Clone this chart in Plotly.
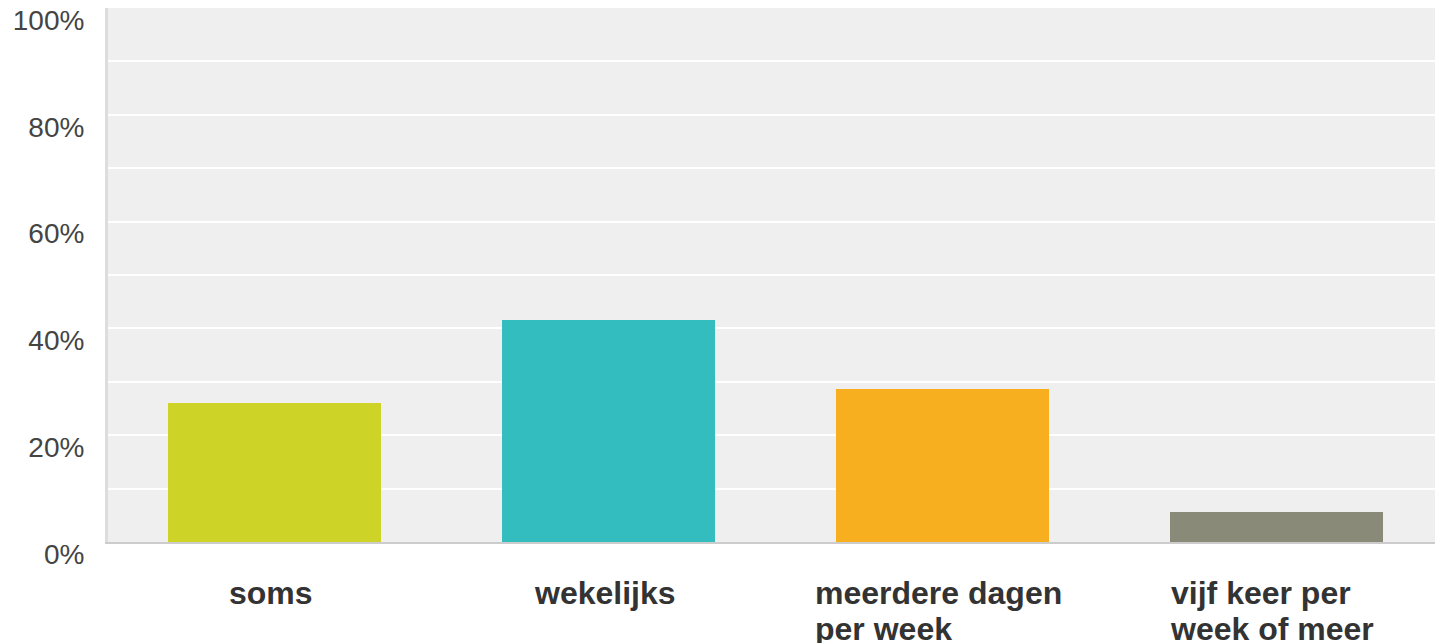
import plotly.graph_objects as go

categories = ["soms", "wekelijks", "meerdere dagen<br>per week", "vijf keer per<br>week of meer"]
values = [26.0, 41.6, 28.7, 5.6]
colors = ["#CED327", "#33BDBF", "#F7AF1F", "#898A78"]
tick_vals = [0, 20, 40, 60, 80, 100]
tick_text = ["0%", "20%", "40%", "60%", "80%", "100%"]

xpos = list(range(len(categories)))

fig = go.Figure()
fig.add_trace(go.Bar(x=xpos, y=values, marker=dict(color=colors, line=dict(width=0)),
                     width=0.638, hoverinfo="skip"))

label_font = dict(family="Liberation Sans, Arial, sans-serif", size=32, color="#333333", weight="bold")
ys = -31
xs = -4
for i, cat in enumerate(categories):
    lines = cat.split("<br>")
    if len(lines) == 1:
        fig.add_annotation(x=i, y=0, xref="x", yref="paper", yanchor="top", yshift=ys, xshift=xs,
                           text=cat, showarrow=False, font=label_font, align="left")
    else:
        clear = '<span style="color:rgba(0,0,0,0)">%s</span>'
        fig.add_annotation(x=i, y=0, xref="x", yref="paper", yanchor="top", yshift=ys, xshift=xs,
                           text=lines[0] + "<br>" + clear % lines[1], showarrow=False,
                           font=label_font, align="left")
        fig.add_annotation(x=i, y=0, xref="x", yref="paper", yanchor="top", yshift=ys + 6, xshift=xs,
                           text=clear % lines[0] + "<br>" + lines[1], showarrow=False,
                           font=label_font, align="left")

fig.update_layout(
    width=1435, height=643,
    margin=dict(l=108, r=0, t=8, b=101),
    paper_bgcolor="white", plot_bgcolor="#EFEFEF",
    showlegend=False, bargap=0,
    xaxis=dict(range=[-0.5, 3.476], showticklabels=False, showgrid=False, zeroline=False,
               showline=True, linecolor="#CCCCCC", linewidth=2, fixedrange=True),
    yaxis=dict(range=[0, 100], tickvals=tick_vals, ticktext=tick_text, showgrid=False,
               zeroline=False, showline=True, linecolor="#DDDDDD", linewidth=3,
               tickfont=dict(family="Liberation Sans, Arial, sans-serif", size=28, color="#444444"),
               ticks="", ticklabelstandoff=15, ticklabelshift=12,
               minor=dict(dtick=10, tick0=0, showgrid=True, gridcolor="#FFFFFF", gridwidth=2),
               fixedrange=True),
)

fig.write_html("out.html", config={"displayModeBar": False},
               post_script="document.body.style.margin='0';document.body.style.overflow='hidden';")
